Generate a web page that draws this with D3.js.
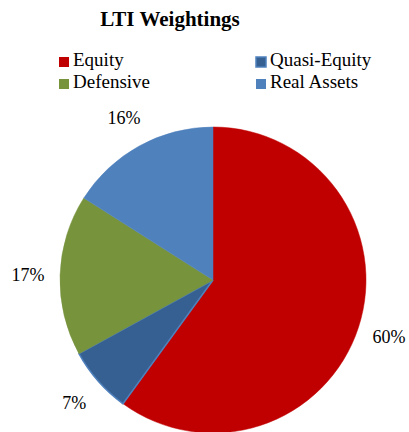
<!DOCTYPE html>
<html><head><meta charset="utf-8">
<script src="https://cdn.jsdelivr.net/npm/d3@7"></script>
<style>body{margin:0;background:#fff}svg{display:block}</style>
</head><body>
<script>
const categories = ["Equity", "Quasi-Equity", "Defensive", "Real Assets"];
const values = [60, 7, 17, 16];
const labels = ["60%", "7%", "17%", "16%"];
const colors = ["#C00000", "#376092", "#77933C", "#4F81BD"];
const strokes = ["#C00000", "#4F81BD", "#77933C", "#4F81BD"];

const W = 409, H = 432;
const svg = d3.select("body").append("svg").attr("width", W).attr("height", H);
const font = "'Liberation Serif','Times New Roman',serif";

svg.append("text").attr("x", 170).attr("y", 26).attr("text-anchor", "middle")
  .attr("font-family", font).attr("font-weight", "bold").attr("font-size", 21)
  .attr("fill", "#000").text("LTI Weightings");

// legend
const legPos = [[59, 66], [256, 66], [59, 88], [256, 88]];
const leg = svg.append("g");
categories.forEach((c, i) => {
  const [x, y] = legPos[i];
  leg.append("rect").attr("x", x).attr("y", y - 9).attr("width", 10).attr("height", 10)
    .attr("fill", colors[i]).attr("stroke", i === 1 ? "#4F81BD" : "none").attr("stroke-width", 1.5);
  leg.append("text").attr("x", x + 14).attr("y", y).attr("font-family", font)
    .attr("font-size", 19).attr("fill", "#000").text(c);
});

const cx = 213, cy = 280, r = 153;
const pie = d3.pie().sort(null).value(d => d)(values);
const arc = d3.arc().innerRadius(0).outerRadius(r);
const g = svg.append("g").attr("transform", `translate(${cx},${cy})`);
g.selectAll("path").data(pie).join("path")
  .attr("d", arc).attr("fill", (d, i) => colors[i])
  .attr("stroke", (d, i) => strokes[i]).attr("stroke-width", (d, i) => i === 1 ? 1.5 : 0.5);

const labelArc = d3.arc().innerRadius(185).outerRadius(185);
g.selectAll("text.lbl").data(pie).join("text").attr("class", "lbl")
  .attr("transform", d => `translate(${labelArc.centroid(d)})`)
  .attr("text-anchor", "middle").attr("dy", "0.35em")
  .attr("font-family", font).attr("font-size", 18).attr("fill", "#000")
  .text((d, i) => labels[i]);
</script>
</body></html>
